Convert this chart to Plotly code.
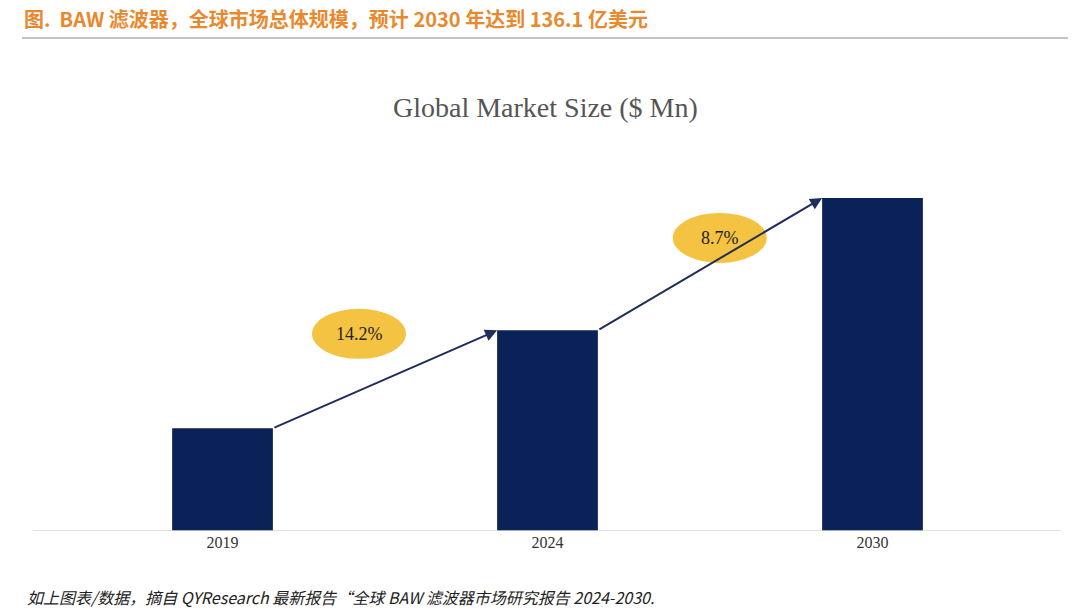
import plotly.graph_objects as go

years = ["2019", "2024", "2030"]
market_size = [4200, 8200, 13610]
cagr_labels = ["14.2%", "8.7%"]

W, H = 1080, 613
fig = go.Figure(go.Bar(
    x=[0, 1, 2], y=market_size, width=0.31,
    marker=dict(color="#0B2259", line=dict(width=0)),
    hoverinfo="x+y",
))

ymax = 13610 * 360 / 333
fig.update_layout(
    width=W, height=H, plot_bgcolor="white", paper_bgcolor="white",
    margin=dict(l=52, r=53, t=163, b=90),
    showlegend=False,
    xaxis=dict(tickmode="array", tickvals=[0, 1, 2], ticktext=years,
               range=[-0.5, 2.5], showgrid=False, zeroline=False,
               tickfont=dict(family="Liberation Serif", size=16, color="#333")),
    yaxis=dict(range=[0, ymax], visible=False),
)

# baseline
fig.add_shape(type="line", xref="paper", yref="y", x0=-0.028, x1=1.027, y0=0, y1=0,
              line=dict(color="#D9D9D9", width=1.5))

# growth arrows and ellipses
hw = 0.155
for i, lab in enumerate(cagr_labels):
    fig.add_annotation(x=i + 1 - hw, y=market_size[i + 1], ax=i + hw, ay=market_size[i],
                       xref="x", yref="y", axref="x", ayref="y", text="",
                       showarrow=True, arrowhead=2, arrowsize=1.2, arrowwidth=2,
                       arrowcolor="#1F2D5A")
ell_pos = [(0.42, 8060), (1.53, 11980)]
for (ex, ey), lab in zip(ell_pos, cagr_labels):
    fig.add_shape(type="circle", xref="x", yref="y", xsizemode="pixel", ysizemode="pixel",
                  xanchor=ex, yanchor=ey, x0=-47, x1=47, y0=-25, y1=25,
                  fillcolor="#F5C342", line=dict(width=0), layer="above")
    fig.add_annotation(x=ex, y=ey, xref="x", yref="y", text=lab, showarrow=False,
                       font=dict(family="Liberation Serif", size=18, color="#222"))

# header, title, footer
fig.add_annotation(xref="paper", yref="paper", x=(22 - 60) / 975, y=(530 - 18) / 360,
                   text="<b>图.  BAW 滤波器，全球市场总体规模，预计 2030 年达到 136.1 亿美元</b>",
                   showarrow=False, xanchor="left", yanchor="middle",
                   font=dict(family="Noto Sans CJK SC", size=20, color="#E8892E"))
fig.add_shape(type="line", xref="paper", yref="paper", x0=(22 - 60) / 975, x1=(1068 - 60) / 975,
              y0=(530 - 37) / 360, y1=(530 - 37) / 360, line=dict(color="#888", width=1))
fig.add_annotation(xref="paper", yref="paper", x=(545 - 60) / 975, y=(530 - 107) / 360,
                   text="Global Market Size ($ Mn)", showarrow=False, yanchor="middle",
                   font=dict(family="Liberation Serif", size=28, color="#555"))
fig.add_annotation(xref="paper", yref="paper", x=(25 - 60) / 975, y=(530 - 596) / 360,
                   text="<i>如上图表/数据，摘自 QYResearch 最新报告“全球 BAW 滤波器市场研究报告 2024-2030.</i>",
                   showarrow=False, xanchor="left", yanchor="middle",
                   font=dict(family="Noto Sans CJK SC", size=16, color="#222"))

fig.write_html("out.html")
